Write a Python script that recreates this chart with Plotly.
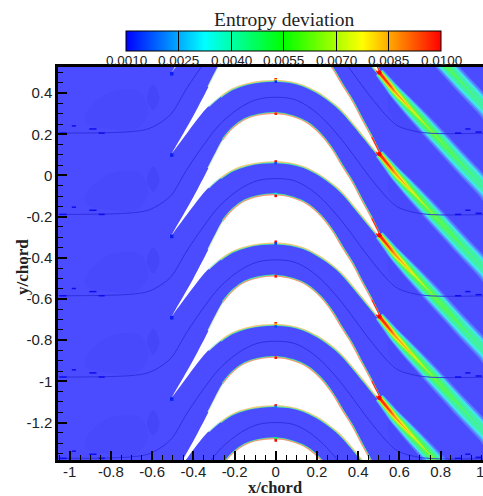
import numpy as np
import plotly.graph_objects as go

# Colour-bar
cbar_vals = [0.0010, 0.0025, 0.0040, 0.0055, 0.0070, 0.0085, 0.0100]
cbar_text = ["0.0010", "0.0025", "0.0040", "0.0055", "0.0070", "0.0085", "0.0100"]

# Axis ticks
x_ticks = [-1, -.8, -.6, -.4, -.2, 0, .2, .4, .6, .8]
x_text = ["-1", "-0.8", "-0.6", "-0.4", "-0.2", "0", "0.2", "0.4", "0.6", "0.8"]
y_ticks = [.4, .2, 0, -.2, -.4, -.6, -.8, -1, -1.2]
y_text = ["0.4", "0.2", "0", "-0.2", "-0.4", "-0.6", "-0.8", "-1", "-1.2"]

# Blade surfaces, relative to the leading-edge height of each blade
lower_x = [-.505, -.497, -.424, -.375, -.327, -.27, -.214, -.141, -.068, 0, .07, .134, .199, .25, .296, .333, .369, .433, .49, .503]
lower_y = [0, .011, .110, .175, .231, .280, .317, .343, .356, .359, .353, .336, .305, .272, .236, .200, .158, .080, .010, -.003]
upper_x = [-.505, -.497, -.4, -.327, -.294, -.254, -.206, -.149, -.084, 0, .085, .15, .215, .272, .32, .366, .417, .463, .503]
upper_y = [0, .015, .185, .325, .390, .463, .519, .560, .581, .589, .573, .544, .488, .415, .335, .262, .165, .080, -.003]
blade_le = [.895, .5, .105, -.29, -.685, -1.08, -1.475, -1.87]

# Mid-passage streamline, relative to its crest height
stream_x = [-1.06, -.693, -.61, -.529, -.497, -.432, -.343, -.279, -.214, -.149, -.084, 0,
            .085, .15, .215, .28, .345, .409, .45, .49, .547, .595, .676, .757, 1.01]
stream_y = [-.569, -.561, -.545, -.496, -.462, -.352, -.222, -.14, -.08, -.036, -.009, 0,
            -.009, -.04, -.09, -.158, -.238, -.325, -.38, -.43, -.495, -.535, -.56, -.57, -.57]
stream_crest = [1.17, .775, .38, -.015, -.41, -.805, -1.2]

# Wake centreline (offset from trailing edge) and half-widths of each colour level
wake_dx = [0, .049, .075, .105, .170, .251, .332, .413, .51, .61]
wake_dy = [0, -.060, -.092, -.125, -.195, -.282, -.370, -.458, -.56, -.67]
wake_te = [.895, .5, .105, -.29, -.685, -1.08]
wake_levels = [
    ("#5a78ff", [.023, .028, .031, .034, .039, .042, .043, .044, .045, .045]),
    ("#4fb0ff", [.020, .025, .028, .030, .033, .035, .035, .036, .036, .036]),
    ("#40e8f0", [.018, .022, .025, .027, .030, .030, .030, .030, .029, .028]),
    ("#40f0a8", [.016, .019, .021, .023, .025, .025, .024, .022, .020, .018]),
    ("#50f860", [.014, .016, .017, .018, .017, .016, .011, .004, .0, .0]),
    ("#a8f520", [.012, .014, .014, .013, .007, .002, .0, .0, .0, .0]),
    ("#f8f020", [.011, .012, .010, .008, .002, .0, .0, .0, .0, .0]),
    ("#ff9a20", [.009, .009, .006, .003, .0, .0, .0, .0, .0, .0]),
    ("#ff2a10", [.007, .003, .0, .0, .0, .0, .0, .0, .0, .0]),
]

# Small dark cells in the near-flat parts of the streamlines (x start, x end, y offset from flat part)
cell_x0 = [-1.05, -.99, -.905, -.86, .87, .92, .97]
cell_x1 = [-1.015, -.97, -.87, -.83, .9, .945, 1.0]
cell_dy = [.0, .035, .02, .0, .0, .02, .005]
flat_y = [.206, -.189, -.584, -.979, -1.374]

# Slightly darker regions of the inlet and outlet flow, relative to the flat part of the streamline
patch_x = [[-.92, -.8, -.66, -.62, -.68, -.8, -.92],
           [.55, .56, .65, .78, .7, .6]]
patch_dy = [[.1, .2, .2, .1, .02, .02, .05],
            [.19, .08, .01, .0, .1, .19]]
loop_x = [-.595, -.565, -.595, -.625]
loop_dy = [.11, .17, .235, .17]

# Single-cell spots at the crests
spot_y = [.467, .462, .456, .300, .068, .060, -.090, -.099, -.322, -.330, -.490,
          -.718, -.725, -.733, -.885, -1.117, -1.124, -1.277, -1.287]
spot_c = ["#ff1000", "#f0e000", "#0030ff", "#ff2000", "#ff1000", "#0050ff", "#00f0f0", "#ff0000",
          "#ff0000", "#0040ff", "#ff1000", "#ff2000", "#f0d000", "#0050ff", "#ff1000",
          "#ff0000", "#0080ff", "#00f060", "#ff0000"]

BG = "#4b4bff"
fig = go.Figure()

# Background variation
def blobs(xs, dys, color):
    X, Y = [], []
    for f in flat_y + [.601]:
        X += xs + [xs[0], None]
        Y += [f + v for v in dys] + [f + dys[0], None]
    fig.add_trace(go.Scatter(x=X, y=Y, mode="lines", fill="toself", fillcolor=color,
                             line=dict(width=0, color=color, shape="spline", smoothing=1),
                             showlegend=False, hoverinfo="skip"))
for px_, pd_ in zip(patch_x, patch_dy):
    blobs(px_, pd_, "#4848fc")
blobs(loop_x, loop_dy, "#4545f9")

# Wakes
dx, dy = np.array(wake_dx), np.array(wake_dy)
tx, ty = np.gradient(dx), np.gradient(dy)
n = np.hypot(tx, ty)
nx, ny = -ty / n, tx / n
for col, hw in wake_levels:
    hw = np.array(hw)
    keep = hw > 0
    keep[min(keep.sum(), len(hw) - 1)] = True  # closes each level at its tip
    X, Y = [], []
    for te in wake_te:
        xa, ya = .503 + dx + nx * hw, te + dy + ny * hw
        xb, yb = .503 + dx - nx * hw, te + dy - ny * hw
        X += list(xa[keep]) + list(xb[keep][::-1]) + [None]
        Y += list(ya[keep]) + list(yb[keep][::-1]) + [None]
    fig.add_trace(go.Scatter(x=X, y=Y, mode="lines", fill="toself", fillcolor=col,
                             line=dict(width=0, color=col, shape="spline", smoothing=1),
                             hoverinfo="skip", showlegend=False))

# Streamlines
X, Y = [], []
for c in stream_crest:
    X += stream_x + [None]
    Y += [c + v for v in stream_y] + [None]
fig.add_trace(go.Scatter(x=X, y=Y, mode="lines", showlegend=False, hoverinfo="skip",
                         line=dict(color="#2c2cdc", width=0.9, shape="spline", smoothing=1)))

# Dark cells
X, Y = [], []
for f in flat_y:
    for a, b, d in zip(cell_x0, cell_x1, cell_dy):
        X += [a, b, None]
        Y += [f + d, f + d, None]
fig.add_trace(go.Scatter(x=X, y=Y, mode="lines", showlegend=False, hoverinfo="skip",
                         line=dict(color="#0c0cf0", width=1.5)))

# Blade edge colour layers
def edge(xs, ys, start, color, width):
    X, Y = [], []
    for le in blade_le:
        X += xs[start:] + [None]
        Y += [le + v for v in ys[start:]] + [None]
    fig.add_trace(go.Scatter(x=X, y=Y, mode="lines", showlegend=False, hoverinfo="skip",
                             line=dict(color=color, width=width, shape="spline", smoothing=1)))

edge(lower_x, lower_y, 4, "#a0e8d0", 2)
edge(upper_x, upper_y, 3, "#c8e8c0", 2)
edge(lower_x, lower_y, 5, "#48e8b0", 3.8)
edge(upper_x, upper_y, 5, "#48e8a0", 3.8)
edge(lower_x, lower_y, 5, "#f0c878", 2.2)
edge(upper_x, upper_y, 5, "#ff9070", 2.2)
edge(lower_x, lower_y, 18, "#ff3010", 3)
edge(upper_x, upper_y, 17, "#ff3010", 3)

# Blades
X, Y = [], []
for le in blade_le:
    X += lower_x + upper_x[::-1][1:] + [None]
    Y += [le + v for v in lower_y] + [le + v for v in upper_y[::-1][1:]] + [None]
fig.add_trace(go.Scatter(x=X, y=Y, mode="lines", fill="toself", fillcolor="white",
                         line=dict(width=0, color="white", shape="spline", smoothing=1),
                         showlegend=False, hoverinfo="skip"))

# Leading and trailing edge cells
fig.add_trace(go.Scatter(x=[-.505] * len(blade_le), y=[v - .006 for v in blade_le], mode="markers",
                         marker=dict(color="#0820f0", size=3.5, symbol="square"),
                         showlegend=False, hoverinfo="skip"))
fig.add_trace(go.Scatter(x=[.503] * len(wake_te), y=wake_te, mode="markers",
                         marker=dict(color="#ff0000", size=4.5),
                         showlegend=False, hoverinfo="skip"))
fig.add_trace(go.Scatter(x=[0] * len(spot_y), y=spot_y, mode="markers",
                         marker=dict(color=spot_c, size=2.6, symbol="square", line=dict(width=0)),
                         showlegend=False, hoverinfo="skip"))

# Colour bar carrier
fig.add_trace(go.Scatter(
    x=[None, None], y=[None, None], mode="markers", showlegend=False, hoverinfo="skip",
    marker=dict(color=[cbar_vals[0], cbar_vals[-1]], cmin=cbar_vals[0], cmax=cbar_vals[-1],
                colorscale=[[0, "#0000ff"], [.25, "#00ffff"], [.5, "#00ff00"], [.75, "#ffff00"], [1, "#ff0000"]],
                showscale=True,
                colorbar=dict(orientation="h", x=(126 - 58) / 425, xanchor="left",
                              y=1 + (67 - 31) / 393, yanchor="top",
                              len=315, lenmode="pixels", thickness=20, thicknessmode="pixels",
                              xpad=0, ypad=0, outlinecolor="black", outlinewidth=1,
                              ticks="inside", ticklen=20, tickwidth=1, tickcolor="black",
                              tickvals=cbar_vals, showticklabels=False))))

# Colour-bar labels sit just above the frame, so they are annotations on top of the plot
for i, t in enumerate(cbar_text):
    fig.add_annotation(text=t, xref="paper", yref="paper", x=(126 + 52.5 * i - 58) / 425, y=1 + (67 - 60.5) / 393,
                       showarrow=False, xanchor="center", yanchor="middle",
                       font=dict(family="Liberation Sans", size=13.5, color="#222"))

fig.add_annotation(text="Entropy deviation", xref="paper", yref="paper", x=(284 - 58) / 425, y=1 + (67 - 20) / 393,
                   showarrow=False, xanchor="center", yanchor="middle",
                   font=dict(family="Liberation Serif", size=19.5, color="#222"))
fig.add_annotation(text="<b>x/chord</b>", xref="paper", yref="paper", x=(275 - 58) / 425, y=-(487 - 460) / 393,
                   showarrow=False, xanchor="center", yanchor="middle",
                   font=dict(family="Liberation Serif", size=16.5, color="#222"))
fig.add_annotation(text="<b>y/chord</b>", xref="paper", yref="paper", x=-(58 - 22) / 425, y=(460 - 267) / 393,
                   textangle=-90, showarrow=False, xanchor="center", yanchor="middle",
                   font=dict(family="Liberation Serif", size=17, color="#222"))
fig.add_annotation(text="1", xref="paper", yref="paper", x=(480 - 58) / 425, y=-(471 - 460) / 393,
                   showarrow=False, xanchor="center", yanchor="middle",
                   font=dict(family="Liberation Sans", size=15, color="#222"))

axis = dict(showgrid=False, zeroline=False, showline=True, mirror=True, linecolor="black", linewidth=2.5,
            ticks="inside", ticklen=9, tickwidth=2, tickcolor="black", automargin=False,
            tickfont=dict(family="Liberation Sans", size=15, color="#222"),
            minor=dict(ticks="inside", ticklen=5, tickwidth=1, tickcolor="black", dtick=0.05, tick0=0, showgrid=False))
fig.update_layout(
    width=483, height=496, margin=dict(l=58, r=0, t=67, b=36, pad=0, autoexpand=False), showlegend=False,
    paper_bgcolor="white", plot_bgcolor=BG,
    xaxis=dict(axis, range=[-1.057, 1.006], tickmode="array", tickvals=x_ticks, ticktext=x_text, ticklabelstandoff=-4),
    yaxis=dict(axis, range=[-1.382, .527], tickmode="array", tickvals=y_ticks, ticktext=y_text),
)
fig.write_html("out.html", config=dict(displayModeBar=False), post_script="document.body.style.margin='0';")
